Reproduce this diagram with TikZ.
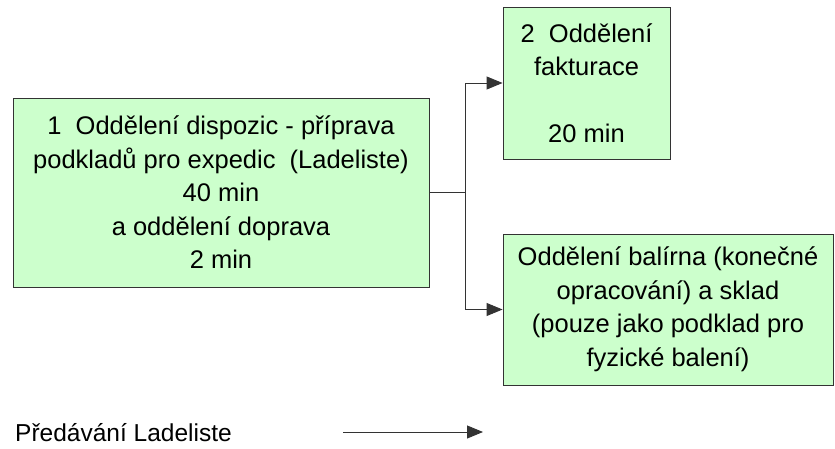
\documentclass[tikz,border=0pt]{standalone}
\usepackage{fontspec}
\setmainfont{Liberation Sans}
\usetikzlibrary{arrows.meta, positioning}
\definecolor{palegreen}{HTML}{CCFFCC}
\definecolor{edgegray}{HTML}{333333}

\begin{document}
\begin{tikzpicture}[x=1pt, y=1pt,
  deptbox/.style={rectangle, draw=edgegray, fill=palegreen, line width=0.9pt, align=center, inner sep=0pt,
    font=\fontsize{25.5}{33.5}\selectfont},
  flow/.style={line width=0.9pt, draw=edgegray, -{Triangle[length=16pt, width=13pt]}}]
\useasboundingbox (0,0) rectangle (835,448);

% Department boxes
\node[deptbox, minimum width=416pt, minimum height=189pt] (dispo) at (221,255.5)
  {1\ \ Oddělení dispozic - příprava\\podkladů pro expedic\ \ (Ladeliste)\\40 min\\a oddělení doprava\\2 min};
\node[deptbox, minimum width=167pt, minimum height=152pt] (faktura) at (586.5,365)
  {2\ \ Oddělení\\fakturace\\ \\20 min};
\node[deptbox, minimum width=330pt, minimum height=151pt] (balirna) at (668,138.5)
  {Oddělení balírna (konečné\\opracování) a sklad\\(pouze jako podklad pro\\fyzické balení)};

% Arrows
\draw[line width=0.9pt, draw=edgegray] (dispo.east) -- ++(36,0) coordinate (fork);
\draw[flow] (fork) |- (faktura.west);
\draw[flow] (fork) |- (balirna.west);

% Legend
\node[anchor=west, inner sep=0pt, font=\fontsize{24.5}{33}\selectfont] (legend) at (15,15) {Předávání Ladeliste};
\coordinate (legstart) at (343,16);
\coordinate (legend) at (483,16);
\draw[flow] (legstart) -- (legend);
\end{tikzpicture}
\end{document}
